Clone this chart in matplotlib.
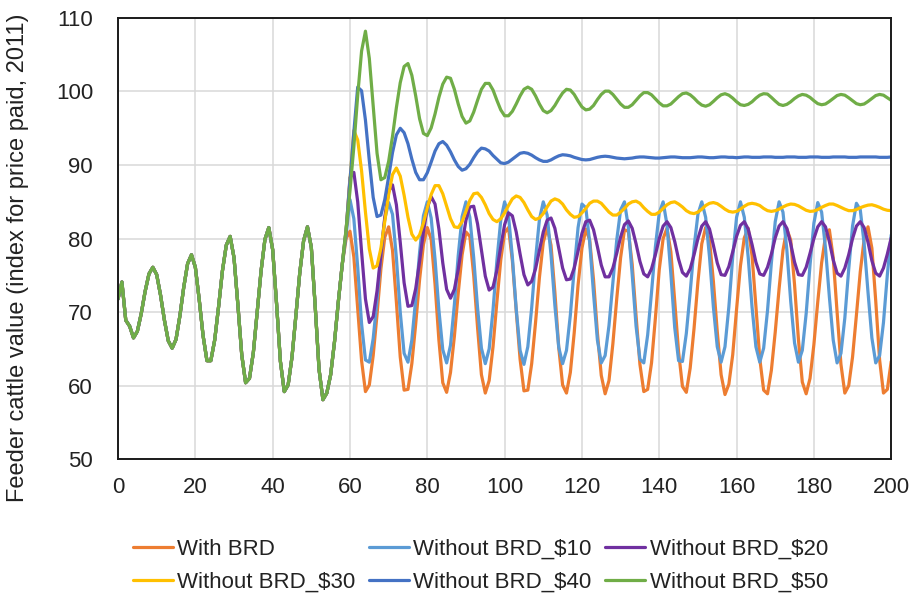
import numpy as np
import matplotlib
matplotlib.use("Agg")
import matplotlib.pyplot as plt

plt.rcParams['font.family'] = ['Liberation Sans', 'DejaVu Sans']

# months 0..200
months = np.arange(0, 201)

# all scenarios share the same path up to month 58
common = [71.8, 74.1, 68.9, 68.1, 66.5, 67.4, 69.8, 72.8, 75.2, 76.1,
          75.1, 72.3, 68.9, 66.1, 65.1, 66.3, 69.5, 73.4, 76.6, 77.8,
          76.1, 71.7, 66.8, 63.4, 63.4, 66.2, 70.7, 75.6, 79.1, 80.3,
          77.4, 71.0, 64.2, 60.4, 61.0, 64.5, 70.0, 75.6, 79.9, 81.5,
          78.5, 71.2, 63.3, 59.2, 60.1, 63.9, 69.5, 75.3, 79.7, 81.6,
          78.8, 70.8, 62.2, 58.1, 59.0, 61.5, 66.0, 71.5, 76.5]

# months 59..200 for each scenario
with_brd = [80.0, 81.0, 77.5, 70.5, 63.4, 59.2, 60.1, 64.1, 69.7, 75.9,
            80.2, 81.6, 78.4, 71.4, 63.9, 59.4, 59.5, 63.0, 68.4, 74.4,
            79.2, 81.5, 79.9, 73.8, 66.2, 60.4, 59.1, 61.8, 66.7, 72.6,
            77.8, 80.9, 80.3, 75.0, 67.9, 61.5, 59.0, 60.7, 65.3, 71.4,
            77.1, 80.8, 81.5, 77.0, 70.2, 63.6, 59.3, 59.4, 63.0, 68.6,
            74.7, 79.5, 81.5, 79.1, 72.7, 65.2, 60.1, 59.0, 61.8, 67.2,
            73.7, 78.7, 81.3, 79.8, 74.4, 67.2, 61.4, 58.9, 60.7, 65.7,
            71.8, 77.4, 81.2, 81.0, 76.5, 69.5, 62.9, 59.2, 59.5, 63.1,
            69.2, 75.8, 80.0, 81.4, 78.2, 71.5, 64.6, 59.9, 59.1, 62.4,
            67.8, 74.1, 79.3, 81.5, 79.8, 74.2, 67.4, 61.5, 58.8, 60.2,
            64.2, 70.4, 76.3, 80.1, 81.4, 77.7, 70.8, 63.7, 59.4, 58.9,
            62.1, 67.3, 73.2, 78.4, 81.3, 79.8, 73.7, 66.3, 60.5, 58.9,
            61.0, 65.6, 71.4, 76.7, 80.3, 81.2, 77.4, 70.0, 62.9, 59.0,
            60.0, 63.9, 69.6, 75.5, 79.9, 81.6, 78.7, 71.5, 63.5, 59.0,
            59.5, 63.3]

without_10 = [80.5, 85.3, 82.7, 76.1, 68.4, 63.5, 63.2, 66.4, 71.7, 77.8,
              82.7, 84.9, 83.3, 77.4, 70.0, 64.4, 63.2, 66.2, 71.8, 78.1,
              83.1, 85.0, 82.8, 77.2, 70.3, 64.9, 63.1, 65.5, 71.0, 77.7,
              83.0, 85.0, 82.9, 77.4, 70.6, 65.1, 63.0, 65.0, 70.3, 77.0,
              82.5, 85.0, 83.1, 77.5, 70.4, 64.8, 62.9, 65.3, 70.6, 77.2,
              82.6, 85.0, 83.2, 77.8, 70.9, 65.2, 63.0, 64.8, 69.6, 75.9,
              81.5, 84.7, 84.2, 79.5, 72.5, 66.2, 63.1, 64.1, 68.2, 74.0,
              79.8, 83.9, 85.0, 81.6, 75.1, 68.1, 63.6, 63.1, 66.9, 72.7,
              78.9, 83.5, 85.0, 81.9, 75.2, 67.9, 63.4, 63.3, 67.1, 72.7,
              78.8, 83.3, 85.0, 82.9, 77.5, 70.7, 65.3, 63.2, 65.3, 70.7,
              77.5, 82.9, 85.0, 82.9, 77.5, 70.7, 65.3, 63.2, 65.1, 70.2,
              76.7, 82.3, 85.0, 83.6, 78.5, 71.5, 65.8, 63.2, 64.8, 69.8,
              76.4, 82.1, 84.9, 83.6, 78.7, 72.1, 66.2, 63.1, 64.4, 69.2,
              75.8, 81.7, 84.8, 83.9, 79.3, 72.7, 66.5, 63.1, 64.1, 68.6,
              75.1, 80.5]

without_20 = [81.0, 88.3, 89.0, 85.0, 78.2, 71.8, 68.6, 69.4, 72.9, 77.9,
              82.9, 86.4, 87.3, 84.6, 79.5, 74.0, 70.8, 70.9, 73.2, 76.9,
              80.9, 84.2, 85.7, 84.7, 81.3, 76.7, 73.1, 71.9, 73.1, 75.8,
              79.3, 82.5, 84.3, 84.4, 82.0, 78.4, 74.9, 73.0, 73.4, 75.7,
              78.9, 81.9, 83.5, 83.1, 80.9, 77.9, 75.1, 73.7, 74.2, 75.9,
              78.4, 80.9, 82.5, 82.8, 81.4, 78.7, 76.0, 74.4, 74.5, 76.0,
              78.3, 80.7, 82.3, 82.5, 81.2, 78.9, 76.4, 74.8, 74.8, 76.0,
              78.0, 80.2, 81.9, 82.4, 81.4, 79.3, 76.9, 75.2, 74.8, 75.9,
              77.8, 80.0, 81.7, 82.3, 81.5, 79.6, 77.2, 75.4, 74.9, 75.9,
              77.8, 80.0, 81.7, 82.3, 81.3, 79.1, 76.7, 75.1, 75.0, 76.2,
              78.2, 80.3, 81.8, 82.3, 81.3, 79.2, 76.8, 75.2, 75.0, 76.1,
              77.9, 80.1, 81.7, 82.3, 81.4, 79.3, 76.8, 75.1, 75.0, 76.1,
              78.0, 80.0, 81.6, 82.3, 81.6, 79.6, 77.1, 75.3, 74.9, 76.0,
              77.8, 80.0, 81.7, 82.3, 81.5, 79.5, 77.0, 75.3, 74.9, 76.0,
              77.9, 80.1]

without_30 = [81.2, 88.0, 94.7, 93.4, 89.2, 83.6, 78.6, 76.0, 76.3, 78.7,
              82.3, 86.0, 88.7, 89.6, 88.5, 85.9, 82.9, 80.6, 79.8, 80.5,
              82.1, 84.2, 86.0, 87.2, 87.2, 86.1, 84.4, 82.7, 81.6, 81.5,
              82.3, 83.7, 85.2, 86.1, 86.2, 85.6, 84.6, 83.4, 82.6, 82.3,
              82.7, 83.5, 84.5, 85.4, 85.8, 85.6, 84.9, 83.9, 83.0, 82.6,
              82.8, 83.4, 84.3, 85.1, 85.4, 85.2, 84.7, 83.9, 83.3, 82.9,
              83.0, 83.5, 84.1, 84.8, 85.1, 85.1, 84.8, 84.2, 83.6, 83.2,
              83.2, 83.6, 84.1, 84.7, 85.0, 85.1, 84.8, 84.2, 83.7, 83.3,
              83.3, 83.6, 84.1, 84.6, 84.9, 85.0, 84.7, 84.3, 83.8, 83.5,
              83.4, 83.6, 84.0, 84.5, 84.8, 84.9, 84.75, 84.4, 84.0, 83.7,
              83.6, 83.7, 84.0, 84.4, 84.7, 84.8, 84.7, 84.5, 84.1, 83.8,
              83.7, 83.8, 84.0, 84.3, 84.55, 84.7, 84.65, 84.45, 84.15, 83.85,
              83.7, 83.75, 83.95, 84.25, 84.5, 84.7, 84.7, 84.5, 84.25, 84.0,
              83.8, 83.8, 83.95, 84.2, 84.4, 84.55, 84.6, 84.45, 84.25, 84.0,
              83.85, 83.8]

without_40 = [81.2, 87.8, 94.5, 100.6, 100.1, 96.1, 90.6, 85.6, 83.0, 83.2,
              85.3, 88.4, 91.7, 94.1, 95.0, 94.4, 92.9, 90.8, 89.0, 88.0,
              88.0, 88.95, 90.4, 91.9, 92.9, 93.2, 92.7, 91.8, 90.7, 89.8,
              89.3, 89.5, 90.1, 91.0, 91.8, 92.3, 92.2, 91.9, 91.3, 90.8,
              90.3, 90.2, 90.4, 90.8, 91.2, 91.6, 91.7, 91.6, 91.35, 91.0,
              90.7, 90.5, 90.5, 90.7, 91.0, 91.25, 91.4, 91.35, 91.25, 91.05,
              90.9, 90.75, 90.7, 90.75, 90.9, 91.05, 91.15, 91.2, 91.15, 91.05,
              90.95, 90.9, 90.85, 90.9, 90.95, 91.05, 91.1, 91.1, 91.05, 91.0,
              90.95, 90.95, 91.0, 91.05, 91.1, 91.1, 91.05, 91.0, 91.0, 91.0,
              91.05, 91.1, 91.1, 91.05, 91.0, 91.0, 91.05, 91.1, 91.1, 91.05,
              91.05, 91.0, 91.05, 91.1, 91.1, 91.05, 91.05, 91.05, 91.1, 91.1,
              91.1, 91.05, 91.05, 91.05, 91.1, 91.1, 91.1, 91.05, 91.05, 91.05,
              91.1, 91.1, 91.1, 91.05, 91.05, 91.05, 91.1, 91.1, 91.1, 91.1,
              91.05, 91.05, 91.05, 91.1, 91.1, 91.1, 91.1, 91.1, 91.05, 91.05,
              91.05, 91.1]

without_50 = [81.3, 86.5, 92.5, 99.5, 105.5, 108.2, 104.5, 98.0, 91.6, 88.0,
              88.3, 90.5, 93.9, 97.8, 101.2, 103.4, 103.8, 102.2, 99.4, 96.3,
              94.3, 94.0, 95.05, 96.95, 99.2, 101.0, 101.95, 101.8, 100.3, 98.3,
              96.6, 95.7, 96.0, 97.2, 98.8, 100.3, 101.1, 101.1, 100.2, 98.8,
              97.5, 96.7, 96.7, 97.3, 98.3, 99.4, 100.3, 100.6, 100.3, 99.4,
              98.3, 97.4, 97.1, 97.4, 98.1, 99.0, 99.8, 100.3, 100.2, 99.6,
              98.7, 97.9, 97.5, 97.6, 98.1, 98.9, 99.6, 100.05, 100.05, 99.6,
              98.95, 98.3, 97.85, 97.85, 98.2, 98.8, 99.4, 99.85, 99.85, 99.55,
              99.0, 98.45, 98.05, 98.05, 98.3, 98.8, 99.3, 99.7, 99.8, 99.55,
              99.1, 98.55, 98.15, 98.0, 98.2, 98.65, 99.15, 99.55, 99.7, 99.5,
              99.1, 98.6, 98.2, 98.1, 98.25, 98.6, 99.1, 99.5, 99.7, 99.65,
              99.2, 98.7, 98.25, 98.1, 98.25, 98.6, 99.05, 99.4, 99.6, 99.5,
              99.2, 98.75, 98.35, 98.2, 98.3, 98.65, 99.05, 99.45, 99.6, 99.5,
              99.15, 98.75, 98.35, 98.2, 98.3, 98.65, 99.05, 99.45, 99.6, 99.5,
              99.15, 98.8]

labels = ["With BRD", "Without BRD_$10", "Without BRD_$20",
          "Without BRD_$30", "Without BRD_$40", "Without BRD_$50"]
tails = [with_brd, without_10, without_20, without_30, without_40, without_50]
colors = ["#ED7D31", "#5B9BD5", "#7030A0", "#FFC000", "#4472C4", "#70AD47"]

fig = plt.figure(figsize=(9.15, 5.98), dpi=100)
ax = fig.add_axes([0.129, 0.232, 0.845, 0.738])

handles = []
for lab, tail, col in zip(labels, tails, colors):
    series = np.concatenate([common, tail])
    h, = ax.plot(months, series, color=col, lw=2.3, label=lab,
                 solid_joinstyle='round', solid_capstyle='round')
    handles.append(h)

ax.set_xlim(0, 200)
ax.set_ylim(50, 110)
ax.set_xticks(np.arange(0, 201, 20))
ax.set_yticks(np.arange(50, 111, 10))
ax.grid(True, color="#d9d9d9", lw=1.1)
ax.set_axisbelow(True)
ax.tick_params(length=0, labelsize=16, colors="#222222")
ax.tick_params(axis='y', pad=18)
ax.tick_params(axis='x', pad=13)
for s in ax.spines.values():
    s.set_color("#1a1a1a")
    s.set_linewidth(1.4)

fig.text(0.020, 0.569, "Feeder cattle value (index for price paid, 2011)",
         rotation=90, ha='center', va='center', fontsize=17, color="#222222")

# legend reads row by row, so reorder for matplotlib's column filling
order = [0, 3, 1, 4, 2, 5]
leg = fig.legend([handles[i] for i in order], [labels[i] for i in order],
                 ncol=3, loc='center', bbox_to_anchor=(0.525, 0.054),
                 frameon=False, fontsize=16, handlelength=1.8,
                 handletextpad=0.2, columnspacing=0.6, labelspacing=0.55,
                 borderpad=0, borderaxespad=0)
for t in leg.get_texts():
    t.set_color("#222222")

fig.savefig("out.png", dpi=100)
